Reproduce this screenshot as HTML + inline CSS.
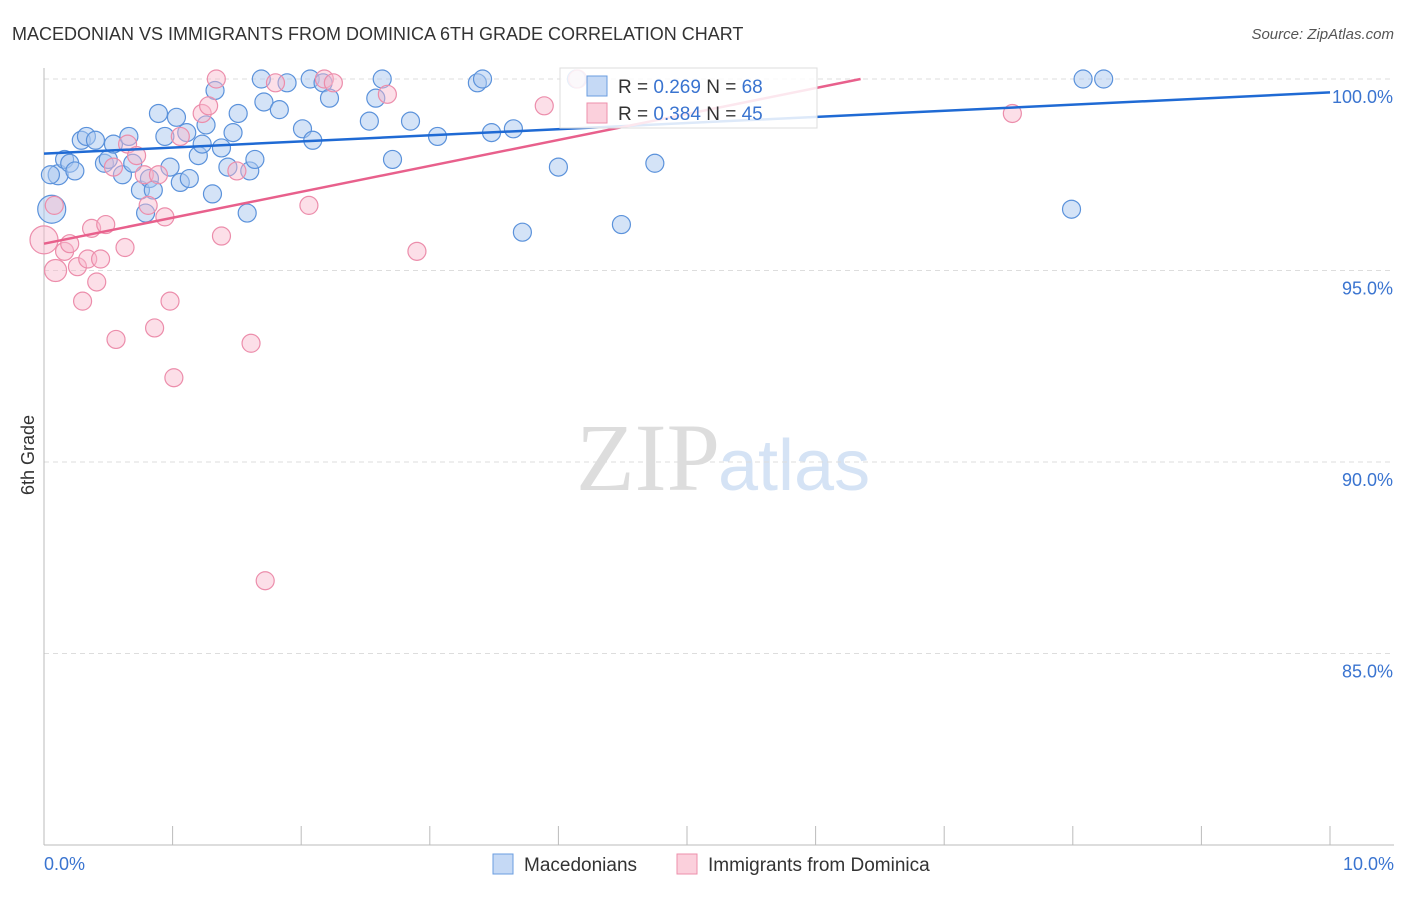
<!DOCTYPE html>
<html><head><meta charset="utf-8"><style>
body{margin:0;background:#fff;font-family:"Liberation Sans",sans-serif}
</style></head><body>
<svg width="1406" height="892" xmlns="http://www.w3.org/2000/svg" font-family="Liberation Sans, sans-serif">
<text x="12" y="40" font-size="18" fill="#333">MACEDONIAN VS IMMIGRANTS FROM DOMINICA 6TH GRADE CORRELATION CHART</text>
<text x="1394" y="39" font-size="15" fill="#555" text-anchor="end" font-style="italic">Source: ZipAtlas.com</text>
<text x="720" y="490" font-size="96" fill="#ddd" text-anchor="end" font-family="Liberation Serif, serif">ZIP</text>
<text x="718" y="490" font-size="72" fill="#d5e3f5">atlas</text>
<g id="grid"></g>
<line x1="44" y1="68" x2="44" y2="845" stroke="#bbb"/>
<line x1="44" y1="845" x2="1394" y2="845" stroke="#bbb"/>
<text transform="translate(34,455) rotate(-90)" font-size="18" fill="#333" text-anchor="middle">6th Grade</text>
<g id="pts"></g>
<g id="lines"></g>
<g>
<rect x="560" y="68" width="257" height="60" fill="#fff" fill-opacity="0.85" stroke="#ddd"/>
<rect x="587" y="76" width="20" height="20" fill="#c5d9f5" stroke="#6a9de0"/>
<text x="618" y="93" font-size="19" fill="#333">R = <tspan fill="#3a74d0">0.269</tspan>   N = <tspan fill="#3a74d0">68</tspan></text>
<rect x="587" y="103" width="20" height="20" fill="#fbd0dc" stroke="#ee8fab"/>
<text x="618" y="120" font-size="19" fill="#333">R = <tspan fill="#3a74d0">0.384</tspan>   N = <tspan fill="#3a74d0">45</tspan></text>
</g>
<g>
<rect x="493" y="854" width="20" height="20" fill="#c5d9f5" stroke="#6a9de0"/>
<text x="524" y="871" font-size="19" fill="#333">Macedonians</text>
<rect x="677" y="854" width="20" height="20" fill="#fbd0dc" stroke="#ee8fab"/>
<text x="708" y="871" font-size="19" fill="#333">Immigrants from Dominica</text>
</g>
</svg>
<script>
const yTicks=[100,95,90,85];
const yTickLabels=["100.0%","95.0%","90.0%","85.0%"];
const xTicks=[0,1,2,3,4,5,6,7,8,9,10];
const blueX=[0.06,0.11,0.16,0.2,0.24,0.29,0.33,0.4,0.47,0.5,0.54,0.61,0.66,0.69,0.75,0.79,0.82,0.85,0.89,0.94,0.98,1.03,1.06,1.11,1.13,1.2,1.23,1.26,1.31,1.33,1.38,1.43,1.47,1.51,1.58,1.6,1.64,1.69,1.71,1.83,1.89,2.01,2.07,2.09,2.17,2.22,2.53,2.58,2.63,2.71,2.85,3.06,3.37,3.41,3.48,3.65,3.72,4.0,4.14,4.49,4.75,7.99,8.08,8.24,0.05];
const blueY=[96.6,97.5,97.9,97.8,97.6,98.4,98.5,98.4,97.8,97.9,98.3,97.5,98.5,97.8,97.1,96.5,97.4,97.1,99.1,98.5,97.7,99.0,97.3,98.6,97.4,98.0,98.3,98.8,97.0,99.7,98.2,97.7,98.6,99.1,96.5,97.6,97.9,100.0,99.4,99.2,99.9,98.7,100.0,98.4,99.9,99.5,98.9,99.5,100.0,97.9,98.9,98.5,99.9,100.0,98.6,98.7,96.0,97.7,100.0,96.2,97.8,96.6,100.0,100.0,97.5];
const blueR=[14,10,9,9,9,9,9,9,9,9,9,9,9,9,9,9,9,9,9,9,9,9,9,9,9,9,9,9,9,9,9,9,9,9,9,9,9,9,9,9,9,9,9,9,9,9,9,9,9,9,9,9,9,9,9,9,9,9,9,9,9,9,9,9,9];
const pinkX=[0.0,0.09,0.16,0.2,0.26,0.3,0.34,0.37,0.41,0.44,0.48,0.56,0.54,0.63,0.65,0.72,0.78,0.81,0.86,0.89,0.94,0.98,1.01,1.06,1.23,1.28,1.34,1.38,1.5,1.61,1.72,1.8,2.06,2.18,2.25,2.67,2.9,3.89,4.15,7.53,0.08];
const pinkY=[95.8,95.0,95.5,95.7,95.1,94.2,95.3,96.1,94.7,95.3,96.2,93.2,97.7,95.6,98.3,98.0,97.5,96.7,93.5,97.5,96.4,94.2,92.2,98.5,99.1,99.3,100.0,95.9,97.6,93.1,86.9,99.9,96.7,100.0,99.9,99.6,95.5,99.3,100.0,99.1,96.7];
const pinkR=[14,11,9,9,9,9,9,9,9,9,9,9,9,9,9,9,9,9,9,9,9,9,9,9,9,9,9,9,9,9,9,9,9,9,9,9,9,9,9,9,9];
const trendBlue=[[0,98.05],[10,99.65]];
const trendPink=[[0,95.7],[6.35,100]];
const NS="http://www.w3.org/2000/svg";
const sx=v=>44+v*128.6, sy=v=>79+(100-v)*38.3;
function mk(t,a,p){const e=document.createElementNS(NS,t);for(const k in a)e.setAttribute(k,a[k]);p.appendChild(e);return e;}
const grid=document.getElementById('grid');
yTicks.forEach((t,i)=>{
 const l=mk('line',{x1:44,x2:1394,y1:sy(t),y2:sy(t),stroke:'#ddd','stroke-dasharray':'5,4'},grid);
 
 
 const tx=mk('text',{x:1393,y:sy(t)+24,'font-size':18,fill:'#3a74d0','text-anchor':'end'},grid);
 tx.textContent=yTickLabels[i];
 
 
});
xTicks.forEach(t=>{
 const l=mk('line',{x1:sx(t),x2:sx(t),y1:826,y2:845,stroke:'#bbb'},grid);
 
 
});
[[0,"0.0%","start",44],[10,"10.0%","end",1394]].forEach(d=>{
 const tx=mk('text',{x:d[3],y:870,'font-size':18,fill:'#3a74d0','text-anchor':d[2]},grid);
 tx.textContent=d[1];
 
 
});
const pts=document.getElementById('pts');
blueX.forEach((x,i)=>{
 const c=mk('circle',{cx:sx(x),cy:sy(blueY[i]),r:blueR[i],fill:'#a9c8f0','fill-opacity':0.5,stroke:'#5b92db','stroke-width':1.2},pts);
 
 
});
pinkX.forEach((x,i)=>{
 const c=mk('circle',{cx:sx(x),cy:sy(pinkY[i]),r:pinkR[i],fill:'#f8b8cb','fill-opacity':0.45,stroke:'#ec8dab','stroke-width':1.2},pts);
 
 
});
const lines=document.getElementById('lines');
const lb=mk('line',{x1:sx(trendBlue[0][0]),y1:sy(trendBlue[0][1]),x2:sx(trendBlue[1][0]),y2:sy(trendBlue[1][1]),stroke:'#1f6ad4','stroke-width':2.5},lines);


const lp=mk('line',{x1:sx(trendPink[0][0]),y1:sy(trendPink[0][1]),x2:sx(trendPink[1][0]),y2:sy(trendPink[1][1]),stroke:'#e8608c','stroke-width':2.5},lines);


</script>
</body></html>
